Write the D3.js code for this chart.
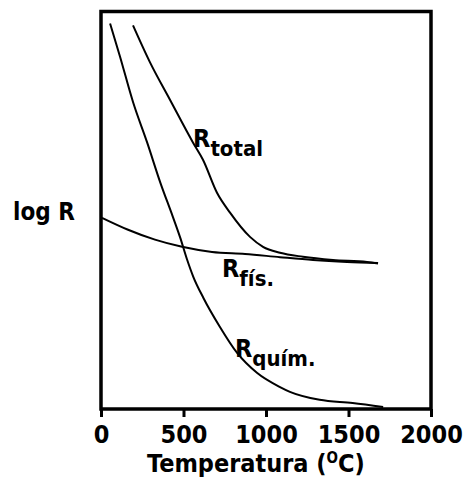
<!DOCTYPE html>
<html>
<head>
<meta charset="utf-8">
<script src="https://cdn.jsdelivr.net/npm/d3@7"></script>
<style>
  html, body { margin: 0; padding: 0; background: #fff; }
  svg { display: block; }
  .lbl { font-family: "DejaVu Sans Condensed", "DejaVu Sans", sans-serif; font-stretch: condensed; fill: #000; }
</style>
</head>
<body>
<svg id="chart" width="468" height="480"></svg>
<script>
// ---- data (temperature in °C, log R in arbitrary units) ----
const xTicks = [0, 500, 1000, 1500, 2000];
const quimT = [55, 115, 195, 280, 360, 435, 480, 520, 560, 620, 720, 825, 945, 1085, 1145, 1325, 1525, 1710];
const quimV = [9.7, 8.87, 7.71, 6.7, 5.69, 4.84, 4.31, 3.78, 3.32, 2.80, 2.07, 1.41, 0.91, 0.55, 0.43, 0.23, 0.15, 0.05];
const totalT = [194, 297, 418, 558, 618, 703, 782, 903, 982, 1085, 1224, 1406, 1612, 1679];
const totalV = [9.65, 8.72, 7.78, 6.70, 6.27, 5.44, 4.94, 4.33, 4.08, 3.93, 3.83, 3.75, 3.70, 3.66];
const fisT = [6, 164, 327, 491, 673, 873, 1085, 1285, 1491, 1679];
const fisV = [4.81, 4.51, 4.26, 4.08, 3.95, 3.90, 3.82, 3.75, 3.70, 3.67];
const curveLabels = [
  { main: "R", sub: "total", t: 558, v: 6.6 },
  { main: "R", sub: "fís.", t: 733, v: 3.32 },
  { main: "R", sub: "quím.", t: 812, v: 1.31 }
];

const svg = d3.select("#chart");
const mLeft = 101, mRight = 431, mTop = 11.5, mBottom = 409;
const x = d3.scaleLinear().domain([0, 2000]).range([mLeft, mRight]);
const y = d3.scaleLinear().domain([0, 10]).range([mBottom, mTop]);

const line = d3.line().x(d => x(d[0])).y(d => y(d[1])).curve(d3.curveMonotoneX);
const series = [
  d3.zip(quimT, quimV),
  d3.zip(totalT, totalV),
  d3.zip(fisT, fisV)
];
svg.append("g").selectAll("path").data(series).join("path")
  .attr("d", line)
  .attr("fill", "none")
  .attr("stroke", "#000")
  .attr("stroke-width", 2);

// frame
svg.append("rect")
  .attr("x", mLeft).attr("y", mTop)
  .attr("width", mRight - mLeft).attr("height", mBottom - mTop)
  .attr("fill", "none").attr("stroke", "#000").attr("stroke-width", 3.5);

// x axis
const ax = svg.append("g")
  .attr("transform", `translate(0,${mBottom})`)
  .call(d3.axisBottom(x).tickValues(xTicks).tickSize(8).tickPadding(8).tickFormat(d3.format("d")));
ax.select(".domain").remove();
ax.attr("font-family", null).attr("font-size", null);
ax.selectAll(".tick line").attr("stroke", "#000").attr("stroke-width", 3);
ax.selectAll(".tick text")
  .attr("class", "lbl")
  .attr("font-size", 25).attr("font-weight", "bold")
  .attr("fill", "#000");

// axis title
const title = svg.append("text").attr("class", "lbl")
  .attr("x", 256).attr("y", 472)
  .attr("text-anchor", "middle")
  .attr("font-size", 25).attr("font-weight", "bold");
title.append("tspan").text("Temperatura (");
title.append("tspan").attr("font-size", 15).attr("dy", -9).text("O");
title.append("tspan").attr("dy", 9).text("C)");

// y label
svg.append("text").attr("class", "lbl")
  .attr("x", 13).attr("y", 220)
  .attr("font-size", 24).attr("font-weight", "bold")
  .text("log R");

// curve labels
curveLabels.forEach(l => {
  const t = svg.append("text").attr("class", "lbl")
    .attr("x", x(l.t)).attr("y", y(l.v))
    .attr("font-size", 25).attr("font-weight", "bold");
  t.append("tspan").text(l.main);
  t.append("tspan").attr("font-size", 22).attr("dy", 9).text(l.sub);
});
</script>
</body>
</html>
